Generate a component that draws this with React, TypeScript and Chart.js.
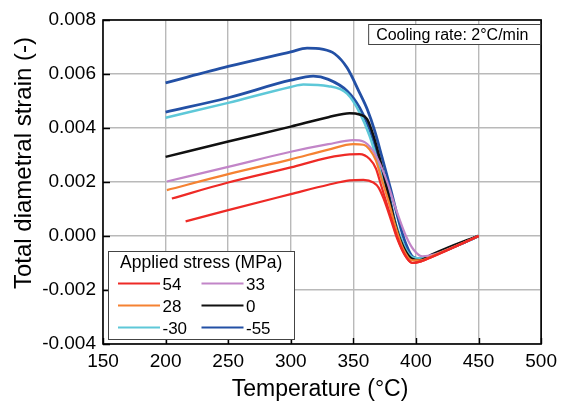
import { useEffect, useRef } from 'react';
import { Chart, registerables } from 'chart.js';

Chart.register(...registerables);

const FONT = '"Liberation Sans", Arial, Helvetica, sans-serif';

// Temperature (°C) / total diametral strain (-) recorded while cooling
const temp54a = [205, 250, 300, 330, 347, 355, 363, 368, 372, 378, 384, 390, 397, 404, 415, 425, 437, 450];
const strain54a = [0.00139, 0.00198, 0.00254, 0.0029, 0.00302, 0.00303, 0.00285, 0.0025, 0.0019, 0.001, 0.0001, -0.0006, -0.001, -0.00094, -0.00073, -0.00053, -0.00028, 0.0];

const temp54b = [216, 250, 300, 330, 347, 358, 366, 370, 374, 380, 385, 391, 397, 404, 415, 425, 437, 450];
const strain54b = [0.00054, 0.00096, 0.00155, 0.0019, 0.00206, 0.00208, 0.00198, 0.0018, 0.0014, 0.0006, -0.0001, -0.0007, -0.001, -0.00094, -0.00073, -0.00053, -0.00028, 0.0];

const temp28 = [201, 250, 300, 330, 350, 358, 363, 368, 372, 378, 384, 390, 397, 404, 415, 425, 437, 450];
const strain28 = [0.0017, 0.00229, 0.00284, 0.0032, 0.0034, 0.00338, 0.0032, 0.0028, 0.0022, 0.0013, 0.0003, -0.0005, -0.0009, -0.0009, -0.0007, -0.00051, -0.00027, 0.0];

const temp33 = [201, 250, 300, 330, 350, 358, 365, 371, 377, 384, 392, 398, 405, 415, 425, 437, 450];
const strain33 = [0.00202, 0.00256, 0.00312, 0.0034, 0.00355, 0.0035, 0.0032, 0.0027, 0.002, 0.001, 0.0, -0.0005, -0.00075, -0.00068, -0.0005, -0.00027, 0.0];

const temp0 = [200, 250, 300, 330, 347, 355, 361, 366, 372, 378, 385, 391, 397, 403, 412, 425, 437, 450];
const strain0 = [0.00293, 0.0035, 0.00405, 0.0044, 0.00455, 0.0045, 0.00433, 0.00372, 0.0027, 0.0015, 0.0002, -0.0005, -0.00085, -0.0009, -0.0007, -0.00044, -0.00022, 0.0];

const tempM30 = [200, 250, 300, 310, 330, 345, 355, 363, 371, 378, 385, 392, 398, 405, 415, 425, 437, 450];
const strainM30 = [0.00438, 0.00493, 0.00552, 0.00561, 0.00555, 0.00527, 0.00457, 0.0037, 0.0025, 0.0014, 0.0003, -0.0005, -0.0008, -0.00083, -0.00068, -0.0005, -0.00027, 0.0];

const tempM55a = [200, 250, 300, 318, 330, 345, 355, 363, 371, 378, 385, 392, 398, 405, 415, 425, 437, 450];
const strainM55a = [0.00459, 0.00512, 0.00577, 0.00592, 0.0058, 0.00537, 0.00475, 0.00395, 0.00278, 0.0016, 0.0002, -0.0005, -0.0008, -0.00085, -0.00068, -0.0005, -0.00027, 0.0];

const tempM55b = [200, 250, 300, 313, 325, 335, 345, 355, 361, 367, 373, 380, 386, 392, 398, 404, 415, 425, 437, 450];
const strainM55b = [0.00567, 0.00628, 0.00682, 0.00696, 0.00692, 0.00675, 0.00623, 0.0053, 0.0047, 0.0039, 0.0029, 0.0017, 0.0006, -0.0003, -0.0008, -0.00085, -0.00068, -0.0005, -0.00027, 0.0];

// Legend entries (applied stress, MPa), listed column by column
const stressLabels = ['54', '28', '-30', '33', '0', '-55'];
const stressColors = ['#ee2a26', '#f58232', '#5ec8d8', '#c285c8', '#111111', '#2350a5'];

const xTicks = [150, 200, 250, 300, 350, 400, 450, 500];
const yTicks = [-0.004, -0.002, 0.0, 0.002, 0.004, 0.006, 0.008];

const colorOf = (label: string) => stressColors[stressLabels.indexOf(label)];

const series = [
  { label: '54', temps: temp54b, strains: strain54b, width: 2.2 },
  { label: '54', temps: temp54a, strains: strain54a, width: 2.2 },
  { label: '28', temps: temp28, strains: strain28, width: 2.2 },
  { label: '33', temps: temp33, strains: strain33, width: 2.2 },
  { label: '0', temps: temp0, strains: strain0, width: 2.5 },
  { label: '-30', temps: tempM30, strains: strainM30, width: 2.5 },
  { label: '-55', temps: tempM55a, strains: strainM55a, width: 2.8 },
  { label: '-55', temps: tempM55b, strains: strainM55b, width: 2.8 },
];

const overlay = {
  id: 'overlay',
  afterDraw(chart: any) {
    const { ctx, chartArea: a, scales } = chart;
    const xs = scales.x;
    const ys = scales.y;
    ctx.save();

    // inward tick marks
    ctx.strokeStyle = '#000';
    ctx.lineWidth = 1.4;
    ctx.beginPath();
    xTicks.forEach((v) => {
      const px = Math.round(xs.getPixelForValue(v)) + 0.5;
      ctx.moveTo(px, a.bottom);
      ctx.lineTo(px, a.bottom - 6);
    });
    yTicks.forEach((v) => {
      const py = Math.round(ys.getPixelForValue(v)) + 0.5;
      ctx.moveTo(a.left, py);
      ctx.lineTo(a.left + 7, py);
    });
    ctx.stroke();

    // plot frame
    ctx.lineWidth = 1.6;
    ctx.strokeRect(a.left, a.top, a.right - a.left, a.bottom - a.top);

    // cooling-rate note
    const nW = 172;
    const nH = 20;
    const nX = a.right - 1 - nW;
    const nY = a.top + 4;
    ctx.fillStyle = '#fff';
    ctx.fillRect(nX, nY, nW, nH);
    ctx.strokeStyle = '#444';
    ctx.lineWidth = 1;
    ctx.strokeRect(nX + 0.5, nY + 0.5, nW, nH);
    ctx.fillStyle = '#000';
    ctx.font = `16px ${FONT}`;
    ctx.textBaseline = 'alphabetic';
    ctx.textAlign = 'left';
    ctx.fillText('Cooling rate: 2°C/min', nX + 8, nY + 16);

    // legend box
    const lW = 186;
    const lH = 88;
    const lX = a.left + 5;
    const lY = a.bottom - 5 - lH;
    ctx.fillStyle = '#fff';
    ctx.fillRect(lX, lY, lW, lH);
    ctx.strokeStyle = '#444';
    ctx.lineWidth = 1;
    ctx.strokeRect(lX + 0.5, lY + 0.5, lW, lH);
    ctx.fillStyle = '#000';
    ctx.font = `17.5px ${FONT}`;
    ctx.fillText('Applied stress (MPa)', lX + 12, lY + 16.5);
    ctx.font = `17px ${FONT}`;
    stressLabels.forEach((lab, i) => {
      const col = Math.floor(i / 3);
      const row = i % 3;
      const x0 = lX + 10 + col * 83.5;
      const yMid = lY + 32.5 + row * 22;
      ctx.strokeStyle = stressColors[i];
      ctx.lineWidth = 2;
      ctx.beginPath();
      ctx.moveTo(x0, yMid);
      ctx.lineTo(x0 + 42, yMid);
      ctx.stroke();
      ctx.fillStyle = '#000';
      ctx.fillText(lab, x0 + 44.5, yMid + 6);
    });

    // axis titles
    ctx.fillStyle = '#000';
    ctx.textAlign = 'center';
    ctx.textBaseline = 'middle';
    ctx.font = `23px ${FONT}`;
    ctx.fillText('Temperature (°C)', (a.left + a.right) / 2 - 2, 390);
    ctx.translate(24, 163);
    ctx.rotate(-Math.PI / 2);
    ctx.font = `24px ${FONT}`;
    ctx.fillText('Total diametral strain (-)', 0, 0);

    ctx.restore();
  },
};

export default function App() {
  const canvasRef = useRef<HTMLCanvasElement | null>(null);

  useEffect(() => {
    const canvas = canvasRef.current;
    if (!canvas) return;
    const chart = new Chart(canvas, {
      type: 'line',
      data: {
        datasets: series.map((s) => ({
          label: s.label,
          data: s.temps.map((t, i) => ({ x: t, y: s.strains[i] })),
          borderColor: colorOf(s.label),
          backgroundColor: colorOf(s.label),
          borderWidth: s.width,
          pointRadius: 0,
          fill: false,
          cubicInterpolationMode: 'monotone' as const,
        })),
      },
      options: {
        responsive: false,
        animation: false,
        devicePixelRatio: 1,
        layout: { padding: { top: 20, right: 16, left: 0, bottom: 0 } },
        plugins: {
          legend: { display: false },
          tooltip: { enabled: false },
          title: { display: false },
        },
        scales: {
          x: {
            type: 'linear',
            min: 150,
            max: 500,
            afterFit: (scale: any) => {
              scale.height = 57;
            },
            afterBuildTicks: (scale: any) => {
              scale.ticks = xTicks.map((v) => ({ value: v }));
            },
            ticks: {
              color: '#000',
              font: { family: FONT, size: 19 },
              padding: 6,
              maxRotation: 0,
              callback: (v: any) => String(v),
            },
            grid: { color: '#b9b9b9', lineWidth: 1.4, drawTicks: false },
            border: { display: false },
          },
          y: {
            type: 'linear',
            min: -0.004,
            max: 0.008,
            afterFit: (scale: any) => {
              scale.width = 103;
            },
            afterBuildTicks: (scale: any) => {
              scale.ticks = yTicks.map((v) => ({ value: v }));
            },
            ticks: {
              color: '#000',
              font: { family: FONT, size: 19 },
              padding: 7,
              callback: (v: any) => Number(v).toFixed(3),
            },
            grid: { color: '#b9b9b9', lineWidth: 1.4, drawTicks: false },
            border: { display: false },
          },
        },
      },
      plugins: [overlay],
    });
    return () => chart.destroy();
  }, []);

  return (
    <div style={{ position: 'absolute', left: 0, top: 0, width: 563, height: 401, background: '#fff' }}>
      <canvas ref={canvasRef} width={563} height={401} style={{ display: 'block' }} />
    </div>
  );
}
